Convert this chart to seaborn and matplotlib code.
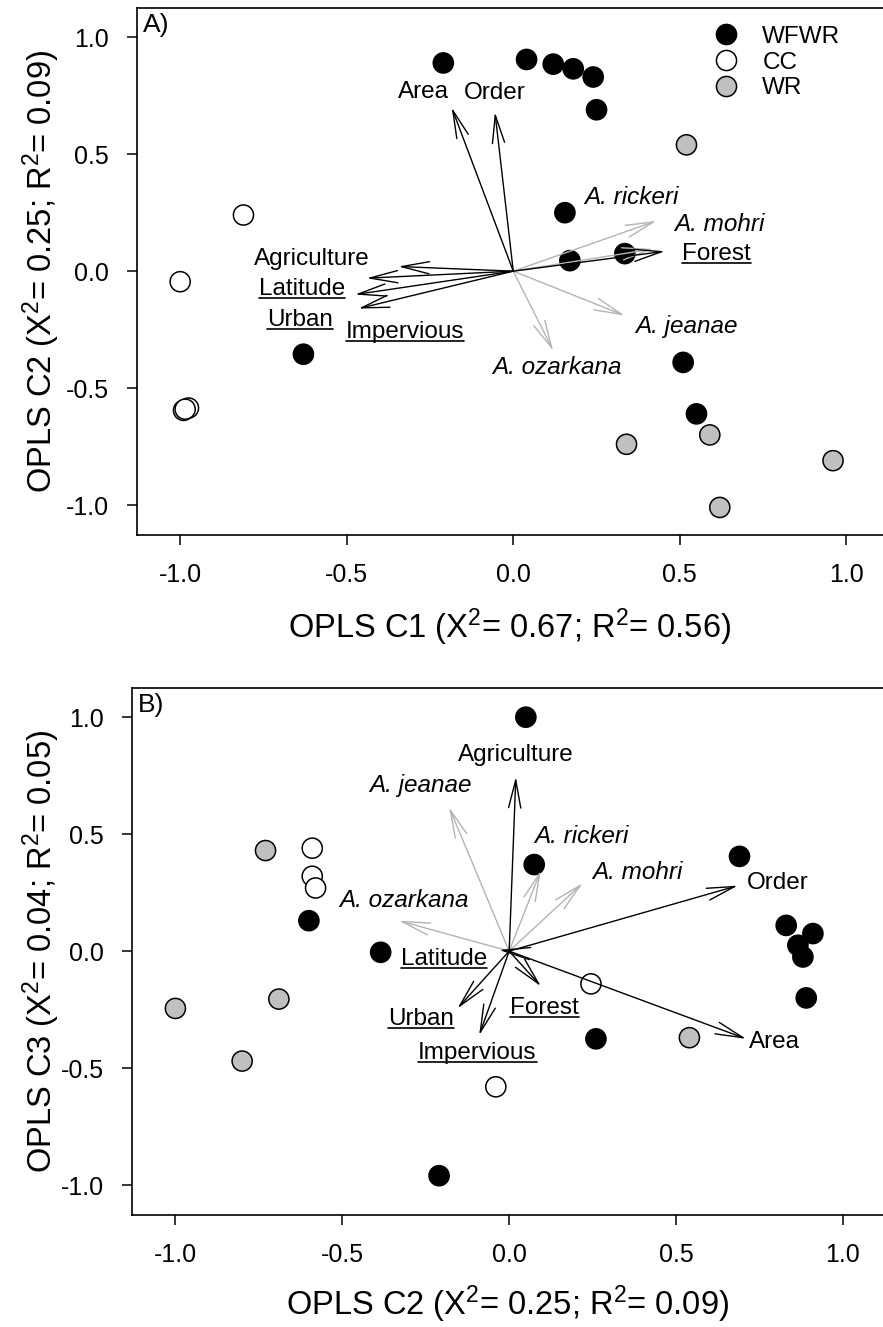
import pandas as pd
import matplotlib
matplotlib.use("Agg")
import matplotlib.pyplot as plt
import seaborn as sns
from matplotlib.lines import Line2D

sns.set_theme(style="ticks")
plt.rcParams["font.family"] = ["Liberation Sans", "DejaVu Sans"]
plt.rcParams.update({
    "axes.linewidth": 1.2,
    "text.color": "black",
    "axes.labelcolor": "black",
    "axes.edgecolor": "black",
    "xtick.color": "black",
    "ytick.color": "black",
    "mathtext.fontset": "custom",
    "mathtext.rm": "Liberation Sans",
    "mathtext.it": "Liberation Sans:italic",
})

# -------------------------------
# data
# -------------------------------
groups = ["WFWR", "CC", "WR"]
group_colours = ["black", "white", "#c0c0c0"]

# panel A: site scores (C1, C2)
a_group = ["WFWR"] * 12 + ["CC"] * 5 + ["WR"] * 5
a_c1 = [-0.21, 0.04, 0.12, 0.18, 0.24, 0.25, 0.155, 0.17, 0.335, 0.51, 0.55, -0.63,
        -0.81, -1.0, -0.99, -0.975, -0.985,
        0.52, 0.34, 0.59, 0.96, 0.62]
a_c2 = [0.89, 0.905, 0.885, 0.865, 0.83, 0.69, 0.25, 0.045, 0.075, -0.39, -0.61, -0.355,
        0.24, -0.045, -0.595, -0.585, -0.59,
        0.54, -0.74, -0.70, -0.81, -1.01]

# panel B: site scores (C2, C3)
b_group = ["WFWR"] * 12 + ["CC"] * 5 + ["WR"] * 5
b_c2 = [0.05, 0.075, 0.69, 0.83, 0.91, 0.865, 0.88, 0.89, -0.385, 0.26, -0.21, -0.60,
        0.245, -0.04, -0.59, -0.59, -0.58,
        0.54, -0.73, -0.69, -0.80, -1.0]
b_c3 = [1.0, 0.37, 0.405, 0.11, 0.075, 0.025, -0.025, -0.20, -0.005, -0.375, -0.96, 0.13,
        -0.14, -0.58, 0.44, 0.32, 0.27,
        -0.37, 0.43, -0.205, -0.47, -0.245]

# loadings
env_vars = ["Agriculture", "Impervious", "Latitude", "Urban", "Area", "Order", "Forest"]
env_a_x = [-0.345, -0.44, -0.475, -0.465, -0.185, -0.055, 0.455]
env_a_y = [0.02, -0.03, -0.10, -0.16, 0.70, 0.68, 0.085]
env_b_x = [0.02, -0.09, -0.03, -0.155, 0.71, 0.685, 0.095]
env_b_y = [0.745, -0.36, 0.005, -0.245, -0.375, 0.28, -0.15]

species = ["A. rickeri", "A. mohri", "A. jeanae", "A. ozarkana"]
sp_a_x = [0.42, 0.43, 0.335, 0.12]
sp_a_y = [0.095, 0.215, -0.19, -0.34]
sp_b_x = [0.095, 0.22, -0.18, -0.33]
sp_b_y = [0.345, 0.29, 0.615, 0.13]

underlined = ["Latitude", "Urban", "Impervious", "Forest"]

# label placement (centre of each text, data units)
label_pos_a = {
    "Area": (-0.27, 0.765), "Order": (-0.055, 0.76), "Forest": (0.61, 0.075),
    "Agriculture": (-0.605, 0.05), "Latitude": (-0.635, -0.075),
    "Urban": (-0.64, -0.21), "Impervious": (-0.325, -0.26),
    "A. rickeri": (0.355, 0.315), "A. mohri": (0.62, 0.20),
    "A. jeanae": (0.52, -0.235), "A. ozarkana": (0.13, -0.41),
}
label_pos_b = {
    "Agriculture": (0.02, 0.84), "Order": (0.805, 0.29), "Area": (0.795, -0.39),
    "Latitude": (-0.195, -0.035), "Urban": (-0.265, -0.29),
    "Forest": (0.105, -0.245), "Impervious": (-0.095, -0.435),
    "A. jeanae": (-0.265, 0.71), "A. rickeri": (0.215, 0.49),
    "A. mohri": (0.385, 0.335), "A. ozarkana": (-0.315, 0.215),
}

df_a = pd.DataFrame({"x": a_c1, "y": a_c2, "Group": a_group})
df_b = pd.DataFrame({"x": b_c2, "y": b_c3, "Group": b_group})

fig = plt.figure(figsize=(8.83, 13.27), dpi=100)
ax_a = fig.add_axes([0.155, 0.5968, 0.845, 0.397])
ax_b = fig.add_axes([0.1495, 0.0844, 0.8505, 0.397])

TXT = 17.5
text_objs = []


def draw_panel(ax, df, ex, ey, sx, sy, pos, legend):
    sns.scatterplot(data=df, x="x", y="y", hue="Group", hue_order=groups,
                    palette=group_colours, s=210, edgecolor="black", linewidth=1.1,
                    legend=legend, ax=ax, zorder=2)
    for xs, ys, names, col in [(sx, sy, species, "#b4b4b4"), (ex, ey, env_vars, "black")]:
        for x, y, n in zip(xs, ys, names):
            ax.annotate("", xy=(x, y), xytext=(0, 0),
                        arrowprops=dict(arrowstyle="->,head_length=1.0,head_width=0.22",
                                        color=col, lw=1.0, shrinkA=0, shrinkB=0,
                                        mutation_scale=20), zorder=3)
            tx, ty = pos[n]
            style = "italic" if n in species else "normal"
            t = ax.text(tx, ty, n, fontsize=TXT, style=style, ha="center", va="center",
                        color="black", zorder=4)
            if n in underlined:
                text_objs.append(t)


draw_panel(ax_a, df_a, env_a_x, env_a_y, sp_a_x, sp_a_y, label_pos_a, True)
draw_panel(ax_b, df_b, env_b_x, env_b_y, sp_b_x, sp_b_y, label_pos_b, False)

handles, labels = ax_a.get_legend_handles_labels()
ax_a.legend(handles, labels, loc="upper left", bbox_to_anchor=(0.76, 0.985),
            frameon=False, fontsize=TXT, handlelength=1.0, handletextpad=1.0,
            labelspacing=0.15, borderaxespad=0, markerscale=1.0)

tick_vals = [-1.0, -0.5, 0.0, 0.5, 1.0]
tick_text = ["-1.0", "-0.5", "0.0", "0.5", "1.0"]
for ax, lab in [(ax_a, "A)"), (ax_b, "B)")]:
    ax.text(0.008, 0.99, lab, transform=ax.transAxes, fontsize=19, ha="left", va="top")
    ax.set_ylim(-1.128, 1.124)
    ax.set_xticks(tick_vals)
    ax.set_yticks(tick_vals)
    ax.set_xticklabels(tick_text)
    ax.set_yticklabels(tick_text)
    ax.tick_params(direction="out", length=7, width=1.1, labelsize=18, pad=13)
    ax.spines["right"].set_visible(False)

ax_a.set_xlim(-1.13, 1.11)
ax_b.set_xlim(-1.13, 1.12)

ax_a.set_xlabel(r"OPLS C1 (X$^2$= 0.67; R$^2$= 0.56)", fontsize=23.5, labelpad=14)
ax_a.set_ylabel(r"OPLS C2 (X$^2$= 0.25; R$^2$= 0.09)", fontsize=23.5)
ax_b.set_xlabel(r"OPLS C2 (X$^2$= 0.25; R$^2$= 0.09)", fontsize=23.5, labelpad=12)
ax_b.set_ylabel(r"OPLS C3 (X$^2$= 0.04; R$^2$= 0.05)", fontsize=23.5)
ax_a.yaxis.set_label_coords(-0.100, 0.5)
ax_b.yaxis.set_label_coords(-0.093, 0.5)

# underline the habitat variables
fig.canvas.draw()
renderer = fig.canvas.get_renderer()
inv = fig.transFigure.inverted()
for t in text_objs:
    bb = t.get_window_extent(renderer)
    (x0, y0), (x1, _) = inv.transform([(bb.x0, bb.y0 + 2), (bb.x1, bb.y0 + 2)])
    fig.add_artist(Line2D([x0, x1], [y0, y0], color="black", lw=1.2,
                          transform=fig.transFigure))

fig.savefig("out.png", dpi=100)
